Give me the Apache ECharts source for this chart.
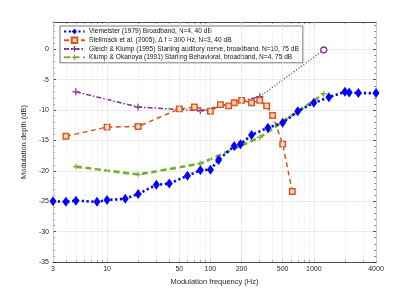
<!DOCTYPE html>
<html>
<head>
<meta charset="utf-8">
<script src="https://cdn.jsdelivr.net/npm/echarts@6/dist/echarts.min.js"></script>
<style>html,body{margin:0;padding:0;background:#fff}#c{width:415px;height:294px}</style>
</head>
<body>
<div id="c"></div>
<script>
// ---- data ----
const xTickLabels = [3, 10, 50, 100, 200, 500, 1000, 4000];
const xMinorTicks = [4,5,6,7,8,9,20,30,40,60,70,80,90,300,400,600,700,800,900,2000,3000];
const yTicks = [-35, -30, -25, -20, -15, -10, -5, 0];

const viemeisterFreq  = [3,4,5,8,10,15,20,30,40,60,80,100,120,170,195,250,360,500,700,1000,1400,2000,2200,2700,4000];
const viemeisterDepth = [-25.0,-25.1,-24.9,-25.1,-24.8,-24.6,-23.8,-22.3,-22.1,-20.8,-19.9,-19.8,-18.2,-15.9,-15.6,-14.1,-12.9,-12.1,-10.2,-8.8,-7.9,-7.0,-7.1,-7.2,-7.2];

const stellmackFreq  = [4,10,20,50,70,100,125,150,170,200,250,300,350,400,500,620];
const stellmackDepth = [-14.3,-12.8,-12.7,-9.8,-9.5,-10.2,-9.1,-9.3,-8.8,-8.4,-8.8,-8.4,-9.3,-10.9,-15.6,-23.4];

const gleichFreq  = [5,20,80,300];
const gleichDepth = [-7.0,-9.5,-10.1,-7.8];
const gleichExtFreq  = [300,1250];
const gleichExtDepth = [-7.8,-0.1];

const klumpFreq  = [5,20,80,300,1250];
const klumpDepth = [-19.3,-20.6,-18.8,-14.5,-7.3];

const names = [
  'Viemeister (1979) Broadband, N=4, 40 dB',
  'Stellmack et al. (2005), \u0394 f = 300 Hz, N=3, 40 dB',
  'Gleich & Klump (1995) Starling auditory nerve, broadband, N=10, 75 dB',
  'Klump & Okanoya (1991) Starling Behavioral, broadband, N=4, 75 dB'
];

const zip = (a, b) => a.map((v, i) => [v, b[i]]);
const axisColor = '#262626';
const font = 'Liberation Sans, Arial, Helvetica, sans-serif';
const plusPath = 'path://M4,0h2v4h4v2h-4v4h-2v-4h-4v-2h4z';

const chart = echarts.init(document.getElementById('c'), null, {renderer: 'canvas'});

const xBase = {type: 'log', logBase: 10, min: 3, max: 4000, gridIndex: 0};
const lineOff = {onZero: false};
chart.setOption({
  animation: false,
  backgroundColor: '#fff',
  textStyle: {fontFamily: font},
  grid: {left: 53, right: 39, top: 22, bottom: 32, containLabel: false},
  legend: {
    data: names,
    orient: 'vertical',
    left: 60, top: 26,
    padding: [2, 4, 2, 3],
    itemGap: 1.4,
    itemWidth: 21, itemHeight: 7,
    backgroundColor: '#fff',
    borderColor: '#555',
    borderWidth: 0.8,
    borderRadius: 0,
    textStyle: {fontSize: 6.6, color: '#111', fontFamily: font, padding: [0,0,0,-1]}
  },
  xAxis: [
    Object.assign({}, xBase, {
      position: 'bottom',
      name: 'Modulation frequency (Hz)', nameLocation: 'middle', nameGap: 15,
      nameTextStyle: {fontSize: 7.5, color: axisColor, fontFamily: font},
      axisLine: {show: true, onZero: false, lineStyle: {color: axisColor, width: 0.8}},
      axisTick: {show: true, inside: true, length: 3, customValues: xTickLabels, lineStyle: {color: axisColor, width: 0.8}},
      axisLabel: {show: true, customValues: xTickLabels, margin: 4, fontSize: 7, color: axisColor, fontFamily: font,
                  formatter: v => String(Math.round(v))},
      splitLine: {show: false}, minorTick: {show: false}, minorSplitLine: {show: false}
    }),
    Object.assign({}, xBase, {
      position: 'top',
      axisLine: {show: true, onZero: false, lineStyle: {color: axisColor, width: 0.8}},
      axisTick: {show: true, inside: true, length: 3, customValues: xTickLabels, lineStyle: {color: axisColor, width: 0.8}},
      axisLabel: {show: false}, splitLine: {show: false}
    }),
    Object.assign({}, xBase, {
      position: 'bottom',
      axisLine: {show: false, onZero: false},
      axisTick: {show: true, inside: true, length: 1.8, customValues: xMinorTicks, lineStyle: {color: axisColor, width: 0.6}},
      axisLabel: {show: false}, splitLine: {show: false}
    }),
    Object.assign({}, xBase, {
      position: 'top',
      axisLine: {show: false, onZero: false},
      axisTick: {show: true, inside: true, length: 1.8, customValues: xMinorTicks, lineStyle: {color: axisColor, width: 0.6}},
      axisLabel: {show: false}, splitLine: {show: false}
    })
  ],
  yAxis: [
    {
      type: 'value', min: -35, max: 4.5, interval: 5, position: 'left',
      name: 'Modulation depth (dB)', nameLocation: 'middle', nameGap: 15,
      nameTextStyle: {fontSize: 7.5, color: axisColor, fontFamily: font},
      axisLine: {show: true, onZero: false, lineStyle: {color: axisColor, width: 0.8}},
      axisTick: {show: true, inside: true, length: 3, customValues: yTicks, lineStyle: {color: axisColor, width: 0.8}},
      minorTick: {show: true, splitNumber: 5, length: 1.8, lineStyle: {color: axisColor, width: 0.6}},
      axisLabel: {show: true, customValues: yTicks, margin: 4, fontSize: 7, color: axisColor, fontFamily: font},
      splitLine: {show: true, lineStyle: {color: '#e6e6e6', width: 0.8}}
    },
    {
      type: 'value', min: -35, max: 4.5, interval: 5, position: 'right',
      axisLine: {show: true, onZero: false, lineStyle: {color: axisColor, width: 0.8}},
      axisTick: {show: true, inside: true, length: 3, customValues: yTicks, lineStyle: {color: axisColor, width: 0.8}},
      minorTick: {show: true, splitNumber: 5, length: 1.8, lineStyle: {color: axisColor, width: 0.6}},
      axisLabel: {show: false},
      splitLine: {show: false}
    }
  ],
  series: [
    {
      type: 'line', name: '_grid', data: [], z: 0, silent: true,
      markLine: {
        silent: true, symbol: 'none', label: {show: false}, animation: false,
        data: xTickLabels.map(v => ({xAxis: v, lineStyle: {color: '#e6e6e6', width: 0.8, type: 'solid'}}))
          .concat(xMinorTicks.map(v => ({xAxis: v, lineStyle: {color: '#dcdcdc', width: 0.7, type: [1, 1.5]}})))
      }
    },
    {
      type: 'line', name: names[0], data: zip(viemeisterFreq, viemeisterDepth), z: 5,
      color: '#0000ff',
      lineStyle: {color: '#0000ff', width: 2.6, type: [2.2, 2.6], cap: 'butt'},
      symbol: 'diamond', symbolSize: [7, 10], showAllSymbol: true,
      itemStyle: {color: '#0000ff', borderWidth: 0}
    },
    {
      type: 'line', name: names[1], data: zip(stellmackFreq, stellmackDepth), z: 4,
      color: '#d95319',
      lineStyle: {color: '#d95319', width: 1.5, type: [5, 3.5]},
      symbol: 'rect', symbolSize: 5.5, showAllSymbol: true,
      itemStyle: {color: '#f3d2c0', borderColor: '#d95319', borderWidth: 1.4}
    },
    {
      type: 'line', name: names[2], data: zip(gleichFreq, gleichDepth), z: 3,
      color: '#7e2f8e',
      lineStyle: {color: '#7e2f8e', width: 1.5, type: [5, 2, 1.5, 2]},
      symbol: plusPath, symbolSize: 7, showAllSymbol: true,
      itemStyle: {color: '#7e2f8e', borderWidth: 0}
    },
    {
      type: 'line', name: 'gleich_ext', z: 3,
      data: [{value: [gleichExtFreq[0], gleichExtDepth[0]], symbol: 'none'}, [gleichExtFreq[1], gleichExtDepth[1]]],
      lineStyle: {color: '#7e2f8e', width: 1.2, type: [1.2, 1.8]},
      symbol: 'circle', symbolSize: 6,
      itemStyle: {color: '#fff', borderColor: '#7e2f8e', borderWidth: 1.4}
    },
    {
      type: 'line', name: names[3], data: zip(klumpFreq, klumpDepth), z: 4,
      color: '#77ac30',
      lineStyle: {color: '#77ac30', width: 2.6, type: [6, 3.5]},
      symbol: plusPath, symbolSize: 6, showAllSymbol: true,
      itemStyle: {color: '#77ac30', borderWidth: 0}
    }
  ]
});
</script>
</body>
</html>
